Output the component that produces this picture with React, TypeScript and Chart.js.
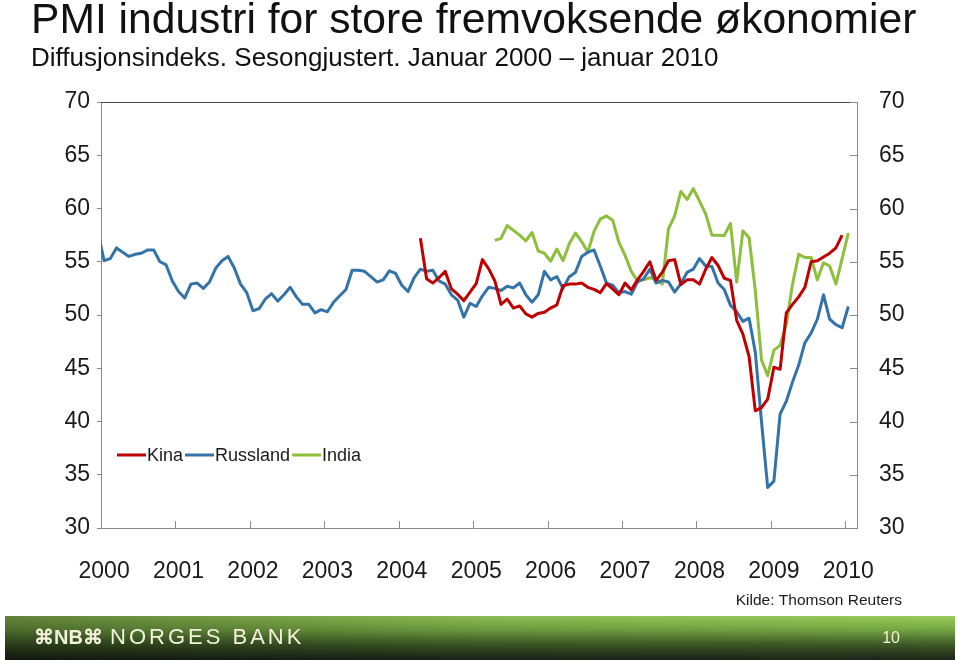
import React, { useEffect, useRef } from "react";
import { Chart, registerables } from "chart.js";

Chart.register(...registerables);

// ---------- data (months counted from January 2000 = 0) ----------
const YEAR_LABELS = ["2000", "2001", "2002", "2003", "2004", "2005", "2006", "2007", "2008", "2009", "2010"];
const Y_MIN = 30;
const Y_MAX = 70;
const Y_STEP = 5;

const SERIES_NAMES = ["Kina", "Russland", "India"];
const SERIES_COLORS = ["#C00000", "#3373A8", "#8DBE3C"];

// Kina: April 2004 – January 2010
const KINA_START = 51;
const KINA = [
  57.2, 53.4, 53.0, 53.5, 54.1, 52.45, 51.95, 51.35, 52.15, 52.95,
  55.2, 54.35, 53.2, 51.0, 51.5, 50.65, 50.85, 50.1, 49.8, 50.15,
  50.25, 50.65, 50.95, 52.75, 52.9, 52.9, 53.0, 52.6, 52.4, 52.1,
  52.95, 52.45, 51.9, 53.0, 52.35, 53.3, 54.1, 55.0, 53.25, 54.0,
  55.1, 55.2, 52.85, 53.3, 53.3, 52.9, 54.3, 55.4, 54.65, 53.45,
  53.25, 49.5, 48.2, 46.1, 41.0, 41.3, 42.1, 45.1, 44.9, 50.2,
  51.0, 51.7, 52.6, 55.0, 55.1, 55.45, 55.8, 56.3, 57.5,
];

// Russland: December 1999 – January 2010
const RUSSLAND_START = -1;
const RUSSLAND = [
  57.8,
  55.1, 55.3, 56.3, 55.9, 55.5, 55.7, 55.8, 56.1, 56.1, 55.0, 54.7, 53.2,
  52.2, 51.6, 52.9, 53.0, 52.5, 53.1, 54.4, 55.1, 55.5, 54.4, 52.9, 52.1,
  50.4, 50.6, 51.5, 52.0, 51.3, 51.9, 52.6, 51.7, 51.0, 51.0, 50.2, 50.5,
  50.3, 51.2, 51.8, 52.4, 54.2, 54.2, 54.1, 53.6, 53.1, 53.3, 54.15, 53.9,
  52.8, 52.2, 53.5, 54.3, 54.1, 54.2, 53.2, 52.9, 51.9, 51.4, 49.8, 51.1,
  50.8, 51.8, 52.6, 52.5, 52.3, 52.7, 52.55, 53.0, 51.9, 51.2, 51.9, 54.1,
  53.3, 53.6, 52.5, 53.6, 54.0, 55.5, 55.9, 56.1, 54.6, 53.0, 52.8, 52.1,
  52.2, 51.95, 53.1, 53.4, 54.3, 53.0, 53.25, 53.1, 52.15, 52.95, 54.0, 54.3,
  55.3, 54.6, 54.55, 53.0, 52.4, 50.9, 50.3, 49.4, 49.7, 46.5, 40.0, 33.8,
  34.4, 40.7, 41.9, 43.7, 45.3, 47.4, 48.3, 49.6, 51.9, 49.6, 49.1, 48.8,
  50.8,
];

// India: April 2005 – January 2010
const INDIA_START = 63;
const INDIA = [
  57.0, 57.2, 58.4, 57.95, 57.5, 56.95, 57.75, 56.0, 55.8,
  55.05, 56.2, 55.1, 56.7, 57.7, 56.9, 55.9, 57.85, 59.0, 59.3, 58.9, 56.85,
  55.6, 54.1, 53.2, 53.3, 53.5, 53.4, 52.9, 58.1, 59.3, 61.6, 60.85, 61.85,
  60.7, 59.5, 57.5, 57.5, 57.45, 58.6, 53.1, 57.9, 57.25, 52.3, 45.8, 44.3,
  46.7, 47.15, 49.1, 52.9, 55.7, 55.4, 55.4, 53.3, 54.9, 54.6, 52.9, 55.3,
  57.7,
];

const TITLE = "PMI industri for store fremvoksende økonomier";
const SUBTITLE = "Diffusjonsindeks. Sesongjustert. Januar 2000 – januar 2010";
const SOURCE = "Kilde: Thomson Reuters";
const BANK = "NORGES BANK";
const PAGE = "10";

const FONT = "'Liberation Sans', Arial, Helvetica, sans-serif";
const AXIS_GRAY = "#8a8a8a";
const TEXT = "#1a1a1a";

const toPoints = (start: number, arr: number[]) => arr.map((v, i) => ({ x: start + i, y: v }));

const decorPlugin = {
  id: "decor",
  afterDraw(chart: any) {
    const { ctx, chartArea: a, scales } = chart;
    const ys = scales.y;
    const xs = scales.x;
    ctx.save();

    // top frame line
    ctx.strokeStyle = "#4a4a4a";
    ctx.lineWidth = 1;
    ctx.beginPath();
    ctx.moveTo(a.left, Math.round(a.top) + 0.5);
    ctx.lineTo(a.right, Math.round(a.top) + 0.5);
    ctx.stroke();

    // right axis inward ticks
    ctx.strokeStyle = AXIS_GRAY;
    for (let v = Y_MIN; v <= Y_MAX; v += Y_STEP) {
      const y = Math.round(ys.getPixelForValue(v)) + 0.5;
      ctx.beginPath();
      ctx.moveTo(a.right - 7, y);
      ctx.lineTo(a.right, y);
      ctx.stroke();
    }
    // x axis inward ticks at year boundaries
    for (let k = 1; k < YEAR_LABELS.length; k++) {
      const x = Math.round(xs.getPixelForValue(12 * k - 0.5)) + 0.5;
      ctx.beginPath();
      ctx.moveTo(x, a.bottom);
      ctx.lineTo(x, a.bottom - 7);
      ctx.stroke();
    }

    // legend
    ctx.font = `18px ${FONT}`;
    ctx.textBaseline = "middle";
    ctx.textAlign = "left";
    let lx = a.left + 16;
    const ly = a.top + 353;
    SERIES_NAMES.forEach((name, i) => {
      ctx.strokeStyle = SERIES_COLORS[i];
      ctx.lineWidth = 3;
      ctx.beginPath();
      ctx.moveTo(lx, ly);
      ctx.lineTo(lx + 29, ly);
      ctx.stroke();
      lx += 30;
      ctx.fillStyle = TEXT;
      ctx.fillText(name, lx, ly + 1);
      lx += ctx.measureText(name).width + 2;
    });

    // title and subtitle
    ctx.textBaseline = "alphabetic";
    ctx.fillStyle = "#111";
    ctx.font = `42.6px ${FONT}`;
    ctx.fillText(TITLE, 31, 33);
    ctx.font = `26px ${FONT}`;
    ctx.fillText(SUBTITLE, 31, 66);

    // source
    ctx.font = `15.5px ${FONT}`;
    ctx.textAlign = "right";
    ctx.fillStyle = TEXT;
    ctx.fillText(SOURCE, 902, 605);

    // footer banner
    const bx = 5, by = 616, bw = 950, bh = 44;
    const g = ctx.createLinearGradient(0, by, 0, by + bh);
    g.addColorStop(0, "#9acb5a");
    g.addColorStop(0.3, "#76a844");
    g.addColorStop(0.65, "#3d5a26");
    g.addColorStop(1, "#1c2218");
    ctx.fillStyle = g;
    ctx.fillRect(bx, by, bw, bh);
    const h = ctx.createLinearGradient(bx, 0, bx + bw, 0);
    h.addColorStop(0, "rgba(0,0,0,0.35)");
    h.addColorStop(0.5, "rgba(0,0,0,0.08)");
    h.addColorStop(1, "rgba(0,0,0,0)");
    ctx.fillStyle = h;
    ctx.fillRect(bx, by, bw, bh);

    ctx.fillStyle = "#f3f0dc";
    ctx.textAlign = "left";
    ctx.textBaseline = "middle";
    ctx.font = `bold 20px ${FONT}`;
    ctx.fillText("⌘NB⌘", 34, 638);
    ctx.font = `22px ${FONT}`;
    let tx = 110;
    for (const ch of BANK) {
      ctx.fillText(ch, tx, 638);
      tx += ctx.measureText(ch).width + 3;
    }
    ctx.font = `16px ${FONT}`;
    ctx.textAlign = "right";
    ctx.fillText(PAGE, 900, 639);

    ctx.restore();
  },
};

export default function App() {
  const ref = useRef<HTMLCanvasElement | null>(null);

  useEffect(() => {
    if (!ref.current) return;
    const datasets = [
      { start: KINA_START, values: KINA },
      { start: RUSSLAND_START, values: RUSSLAND },
      { start: INDIA_START, values: INDIA },
    ].map((s, i) => ({
      label: SERIES_NAMES[i],
      data: toPoints(s.start, s.values),
      borderColor: SERIES_COLORS[i],
      backgroundColor: SERIES_COLORS[i],
      borderWidth: 3,
      pointRadius: 0,
      tension: 0,
      fill: false,
      borderJoinStyle: "round" as const,
    }));

    const tickFont = { family: FONT, size: 23 };

    const chart = new Chart(ref.current, {
      type: "line",
      data: { datasets },
      plugins: [decorPlugin],
      options: {
        animation: false,
        responsive: false,
        devicePixelRatio: 1,
        layout: { padding: { top: 102, left: 0, right: 0, bottom: 0 } },
        plugins: { legend: { display: false }, tooltip: { enabled: false } },
        scales: {
          x: {
            type: "linear",
            min: -0.5,
            max: 121.4,
            grid: { display: false },
            border: { display: true, color: AXIS_GRAY, width: 1 },
            afterBuildTicks: (scale: any) => {
              scale.ticks = YEAR_LABELS.map((_, i) => ({ value: i * 12 }));
            },
            afterFit: (scale: any) => {
              scale.height = 132;
            },
            ticks: {
              autoSkip: false,
              maxRotation: 0,
              padding: 22,
              color: TEXT,
              font: tickFont,
              callback: (v: any) => YEAR_LABELS[Math.round(Number(v) / 12)],
            },
          },
          y: {
            position: "left",
            min: Y_MIN,
            max: Y_MAX,
            grid: { display: true, drawOnChartArea: false, drawTicks: true, tickLength: 4, color: AXIS_GRAY },
            border: { display: true, color: AXIS_GRAY, width: 1 },
            afterFit: (scale: any) => {
              scale.width = 101;
            },
            ticks: { stepSize: Y_STEP, padding: 7, color: TEXT, font: tickFont },
          },
          y2: {
            position: "right",
            min: Y_MIN,
            max: Y_MAX,
            grid: { display: false, drawTicks: false },
            border: { display: true, color: AXIS_GRAY, width: 1 },
            afterFit: (scale: any) => {
              scale.width = 103;
            },
            ticks: { stepSize: Y_STEP, padding: 22, color: TEXT, font: tickFont },
          },
        },
      },
    } as any);
    return () => chart.destroy();
  }, []);

  return (
    <div style={{ position: "absolute", left: 0, top: 0, width: 960, height: 660, background: "#fff" }}>
      <canvas ref={ref} width={960} height={660} style={{ display: "block", width: 960, height: 660 }} />
    </div>
  );
}
